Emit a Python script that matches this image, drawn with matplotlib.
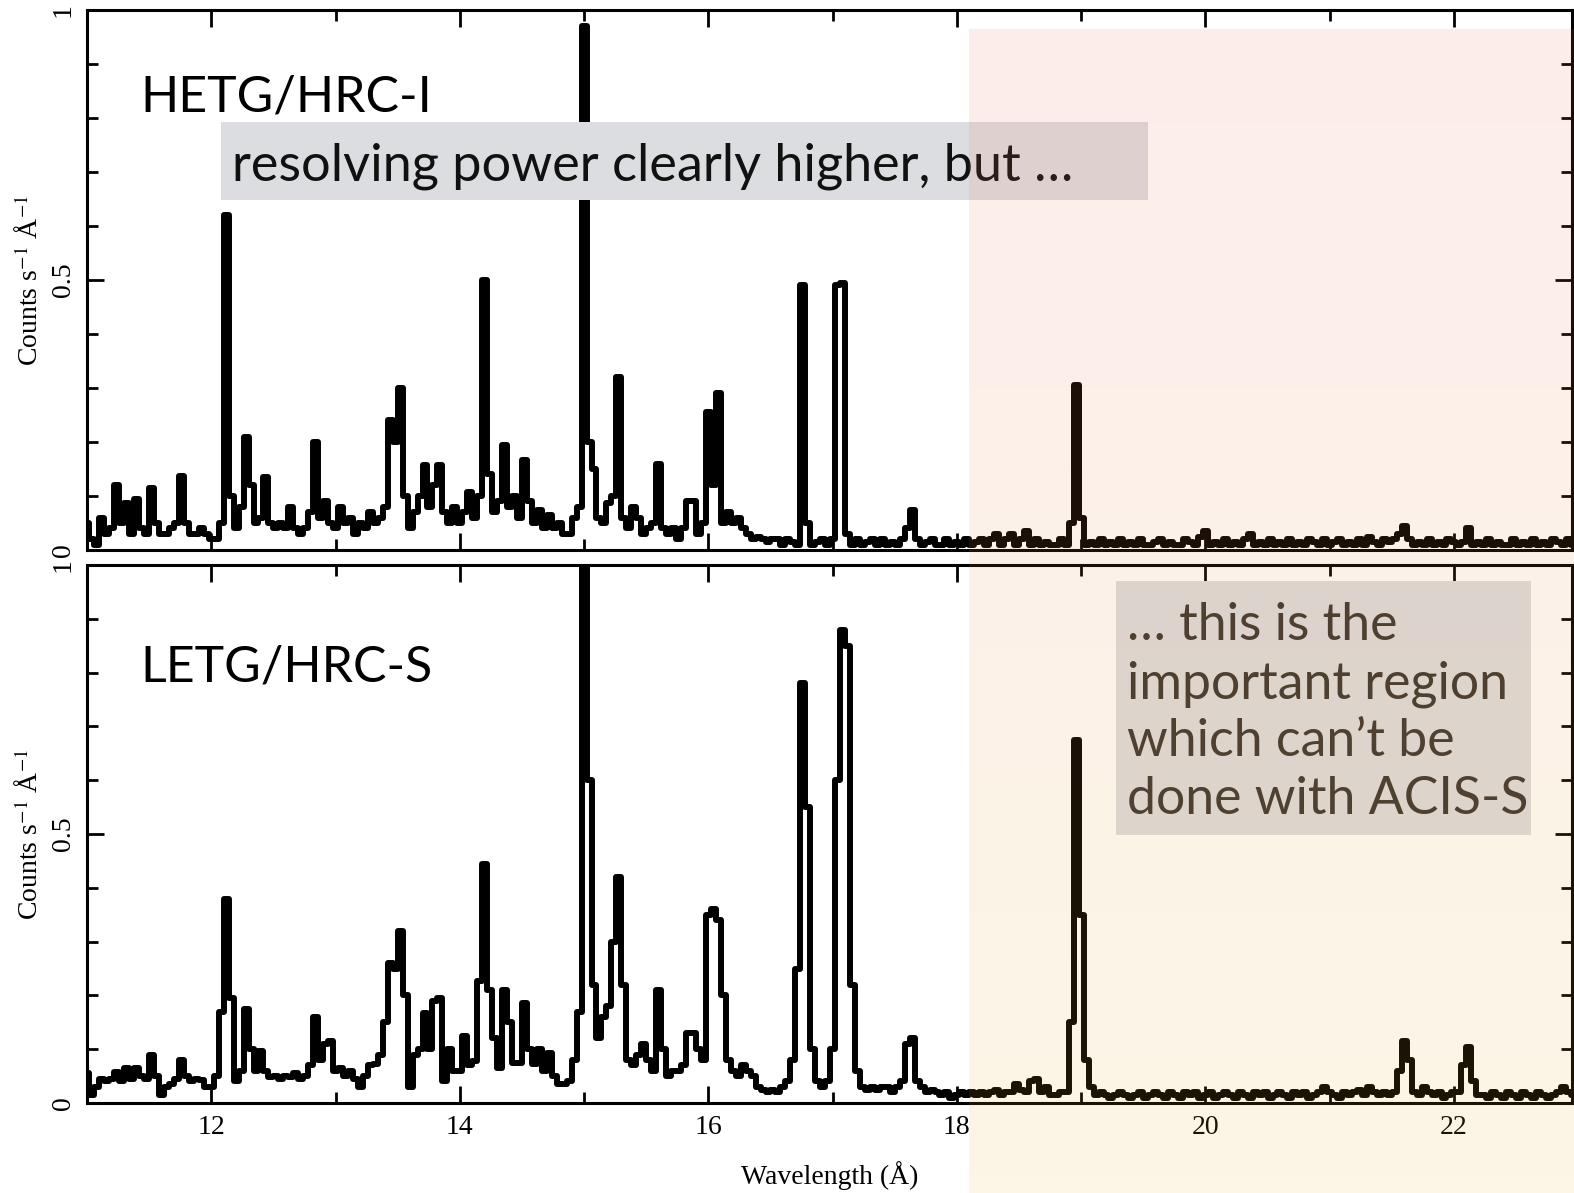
#!/usr/bin/env python3
"""Two-panel X-ray grating spectrum comparison (HETG vs LETG)."""
import numpy as np
import matplotlib
matplotlib.use("Agg")
import matplotlib.pyplot as plt
from matplotlib.patches import Rectangle
from matplotlib.ticker import MultipleLocator

# ---- data: binned count rates (bin width 0.04 A, first bin 11.00 A)
WAVE_START = 11.00
BIN_WIDTH = 0.04

hetg_counts = [
    .05, .02, .01, .06, .03, .04, .12, .05, .087, .03,        # 11.00
    .095, .04, .03, .115, .05, .03, .03, .04, .05, .137,      # 11.40
    .05, .03, .03, .04, .03, .02, .02, .05, .62, .10,         # 11.80
    .04, .08, .21, .12, .05, .06, .135, .05, .04, .05,        # 12.20
    .04, .08, .04, .03, .04, .07, .20, .06, .09, .05,         # 12.60
    .04, .08, .05, .06, .03, .05, .04, .07, .05, .06,         # 13.00
    .08, .24, .20, .30, .10, .04, .07, .10, .157, .08,        # 13.40
    .12, .157, .07, .05, .08, .05, .07, .107, .06, .10,       # 13.80
    .50, .14, .07, .09, .195, .08, .10, .06, .167, .09,       # 14.20
    .05, .074, .04, .065, .04, .05, .03, .03, .06, .08,       # 14.60
    .97, .20, .15, .06, .05, .087, .10, .32, .06, .04,        # 15.00
    .08, .06, .03, .04, .05, .16, .04, .03, .04, .02,         # 15.40
    .04, .09, .09, .03, .05, .255, .12, .29, .05, .07,        # 15.80
    .05, .06, .04, .03, .02, .025, .02, .015, .02, .02,       # 16.20
    .01, .02, .015, .01, .49, .05, .01, .015, .02, .01,       # 16.60
    .02, .49, .495, .03, .01, .02, .01, .015, .02, .01,       # 17.00
    .02, .01, .015, .01, .02, .04, .075, .02, .01, .015,      # 17.40
    .02, .01, .01, .02, .01, .015, .01, .02, .01, .015,       # 17.80
    .02, .01, .02, .03, .01, .02, .03, .01, .02, .035,        # 18.20
    .01, .02, .01, .015, .01, .01, .02, .01, .05, .305,       # 18.60
    .06, .01, .015, .01, .02, .01, .015, .01, .02, .01,       # 19.00
    .015, .01, .02, .01, .01, .015, .02, .01, .015, .01,      # 19.40
    .01, .02, .015, .01, .025, .035, .01, .015, .01, .02,     # 19.80
    .01, .015, .01, .02, .03, .01, .015, .01, .02, .01,       # 20.20
    .015, .01, .02, .01, .015, .01, .02, .015, .01, .02,      # 20.60
    .01, .015, .02, .01, .015, .01, .02, .01, .025, .015,     # 21.00
    .01, .02, .015, .02, .03, .045, .02, .01, .015, .01,      # 21.40
    .02, .01, .015, .01, .02, .015, .01, .015, .04, .01,      # 21.80
    .015, .01, .02, .01, .015, .01, .01, .02, .01, .015,      # 22.20
    .01, .02, .01, .015, .01, .02, .015, .01, .02, .01,       # 22.60
    .015, .01,                                                # 23.00
]

letg_counts = [
    .055, .015, .03, .045, .04, .045, .057, .04, .065, .045,  # 11.00
    .065, .05, .045, .09, .05, .015, .03, .035, .045, .08,    # 11.40
    .05, .04, .045, .043, .03, .03, .05, .17, .38, .195,      # 11.80
    .04, .06, .175, .10, .06, .097, .06, .048, .05, .045,     # 12.20
    .05, .048, .055, .045, .05, .07, .16, .08, .11, .115,     # 12.60
    .06, .065, .05, .06, .045, .03, .05, .07, .072, .09,      # 13.00
    .15, .26, .25, .32, .20, .03, .09, .10, .167, .10,        # 13.40
    .19, .195, .04, .10, .06, .06, .125, .07, .078, .226,     # 13.80
    .445, .21, .12, .065, .21, .15, .075, .075, .186, .10,    # 14.20
    .072, .10, .06, .093, .05, .035, .035, .04, .08, .17,     # 14.60
    1.05, .60, .22, .12, .16, .18, .30, .42, .22, .08,        # 15.00
    .07, .09, .11, .08, .06, .21, .10, .05, .06, .06,         # 15.40
    .07, .13, .13, .10, .08, .35, .36, .34, .20, .08,         # 15.80
    .06, .05, .07, .06, .05, .03, .025, .02, .025, .02,       # 16.20
    .03, .04, .08, .25, .78, .55, .10, .04, .03, .04,         # 16.60
    .10, .60, .88, .85, .22, .06, .03, .025, .03, .025,       # 17.00
    .03, .03, .02, .03, .04, .11, .12, .04, .03, .02,         # 17.40
    .025, .02, .015, .02, .01, .015, .02, .015, .02, .015,    # 17.80
    .02, .015, .02, .025, .015, .02, .02, .035, .025, .02,    # 18.20
    .04, .045, .02, .03, .015, .015, .02, .02, .15, .675,     # 18.60
    .35, .08, .03, .015, .02, .015, .01, .015, .02, .015,     # 19.00
    .01, .015, .02, .01, .015, .02, .015, .01, .02, .015,     # 19.40
    .01, .02, .015, .02, .01, .015, .02, .01, .015, .02,      # 19.80
    .015, .01, .02, .015, .01, .02, .015, .02, .01, .015,     # 20.20
    .02, .015, .01, .02, .015, .02, .01, .015, .02, .03,      # 20.60
    .02, .015, .01, .02, .015, .02, .025, .015, .03, .02,     # 21.00
    .015, .02, .015, .02, .06, .115, .08, .02, .015, .03,     # 21.40
    .02, .015, .02, .01, .015, .02, .02, .07, .105, .04,      # 21.80
    .015, .015, .01, .02, .015, .01, .02, .015, .01, .02,     # 22.20
    .015, .01, .02, .015, .01, .015, .02, .03, .02, .015,     # 22.60
    .02, .015,                                                # 23.00
]

panel_names = ["HETG/HRC-I", "LETG/HRC-S"]
note_top = "resolving power clearly higher, but \u2026"
note_bottom = ["\u2026 this is the", "important region", "which can\u2019t be", "done with ACIS-S"]

x_ticks = [12, 14, 16, 18, 20, 22]
y_ticks = [0, 0.5, 1]
y_tick_labels = ["0", "0.5", "1"]

# ---- layout (figure pixels)
W, H, DPI = 1574, 1193, 100


def fx(px):
    return px / W


def fy(py):
    return 1 - py / H


plt.rcParams["font.family"] = "serif"
plt.rcParams["font.serif"] = ["Liberation Serif", "DejaVu Serif"]
plt.rcParams["mathtext.fontset"] = "stix"

fig = plt.figure(figsize=(W / DPI, H / DPI), dpi=DPI, facecolor="white")
left, right = 87, 1572
ax_top = fig.add_axes([fx(left), fy(550), fx(right) - fx(left), fy(10) - fy(550)])
ax_bot = fig.add_axes([fx(left), fy(1103), fx(right) - fx(left), fy(565) - fy(1103)])

for ax, counts in ((ax_top, hetg_counts), (ax_bot, letg_counts)):
    wave = WAVE_START + BIN_WIDTH * np.arange(len(counts))
    ax.plot(wave, counts, drawstyle="steps-mid", color="black", lw=4.3,
            solid_joinstyle="round", solid_capstyle="round")
    ax.set_xlim(11.0, 22.95)
    ax.set_ylim(0, 1)
    ax.xaxis.set_major_locator(MultipleLocator(2))
    ax.xaxis.set_minor_locator(MultipleLocator(1))
    ax.yaxis.set_minor_locator(MultipleLocator(0.1))
    ax.set_yticks(y_ticks)
    ax.set_yticklabels(y_tick_labels, rotation=90, va="center")
    for s in ax.spines.values():
        s.set_linewidth(2.2)
    ax.tick_params(which="both", direction="in", top=True, right=True, width=2.0,
                   labelsize=20)
    ax.tick_params(which="major", length=12)
    ax.tick_params(which="minor", length=8)
    ax.tick_params(axis="y", pad=8)
    ax.tick_params(axis="x", pad=9)
    ax.set_ylabel(r"Counts s$^{-1}$ Å$^{-1}$", fontsize=20)
    ax.yaxis.set_label_coords(-0.029, 0.5)

ax_top.tick_params(axis="x", labelbottom=False)
ax_bot.set_xticks(x_ticks)
ax_bot.set_xlabel("Wavelength (Å)", fontsize=20)
ax_bot.xaxis.set_label_coords(0.5, -0.108)

# ---- annotations
sans = "Lato"
fig.text(fx(140), fy(112), panel_names[0], family=sans, fontsize=36,
         color="black", va="baseline", ha="left", zorder=5)
fig.text(fx(140), fy(682), panel_names[1], family=sans, fontsize=36,
         color="black", va="baseline", ha="left", zorder=5)

box_color = "#dcdde0"
fig.patches.append(Rectangle((fx(221), fy(200)), fx(1148) - fx(221), fy(122) - fy(200),
                             transform=fig.transFigure, color=box_color, lw=0, zorder=4))
fig.text(fx(232), fy(180), note_top, family=sans, fontsize=37.6, color="#111111",
         va="baseline", ha="left", zorder=5)

fig.patches.append(Rectangle((fx(1116), fy(835)), fx(1531) - fx(1116), fy(581) - fy(835),
                             transform=fig.transFigure, color=box_color, lw=0, zorder=4))
for i, line in enumerate(note_bottom):
    fig.text(fx(1127), fy(640 + 58 * i), line, family=sans, fontsize=37.4,
             color="#3a3630", va="baseline", ha="left", zorder=5)

# ---- translucent highlight over the long-wavelength region
alpha = 0.12
top_rgb = np.array([230, 105, 80]) / 255
bot_rgb = np.array([238, 180, 47]) / 255
t = np.linspace(0, 1, 256)[:, None]
grad = np.zeros((256, 1, 4))
grad[:, 0, :3] = top_rgb * (1 - t) + bot_rgb * t
grad[:, 0, 3] = alpha
ax_ov = fig.add_axes([fx(969), 0, 1 - fx(969), fy(29)], zorder=10)
ax_ov.imshow(grad, aspect="auto", extent=[0, 1, 0, 1], interpolation="bilinear")
ax_ov.set_axis_off()
ax_ov.patch.set_alpha(0)

fig.savefig("out.png", dpi=DPI)
plt.close(fig)
